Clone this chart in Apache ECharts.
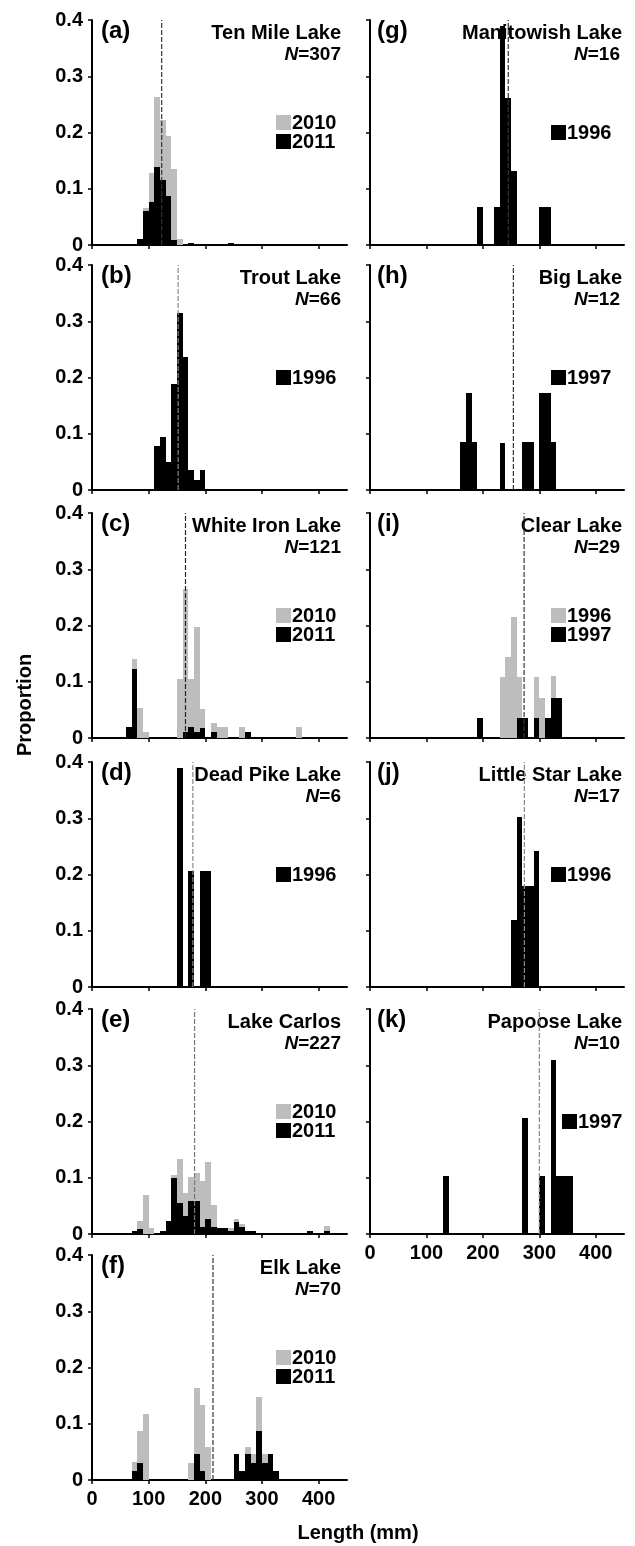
<!DOCTYPE html>
<html><head><meta charset="utf-8">
<script src="https://cdn.jsdelivr.net/npm/echarts@6/dist/echarts.min.js"></script>
<style>html,body{margin:0;padding:0;background:#fff}#c{width:635px;height:1546px}</style>
</head><body><div id="c"></div>
<script>
// ---------------- DATA ----------------
const BIN = 10; // bin width (mm)
const xTicks = [0, 100, 200, 300, 400];
const yTicks = [0, 0.1, 0.2, 0.3, 0.4];
const panelLetters = ['(a)','(b)','(c)','(d)','(e)','(f)','(g)','(h)','(i)','(j)','(k)'];
const lakeNames = ['Ten Mile Lake','Trout Lake','White Iron Lake','Dead Pike Lake','Lake Carlos','Elk Lake',
                   'Manitowish Lake','Big Lake','Clear Lake','Little Star Lake','Papoose Lake'];
const sampleSizes = [307, 66, 121, 6, 227, 70, 16, 12, 29, 17, 10];
const meanLengths = [123, 152, 165, 178, 181, 213.5, 245, 254, 273, 273.5, 300];
const greyYears  = ['2010', null, '2010', null, '2010', '2010', null, null, '1996', null, null];
const blackYears = ['2011', '1996', '2011', '1996', '2011', '2011', '1996', '1997', '1997', '1996', '1997'];

// [bin start (mm), proportion]
const tenMile2010 = [[90,0.066],[100,0.128],[110,0.263],[120,0.222],[130,0.193],[140,0.136],[150,0.011]];
const tenMile2011 = [[80,0.011],[90,0.060],[100,0.077],[110,0.138],[120,0.116],[130,0.088],[140,0.009],[170,0.004],[240,0.004]];
const trout1996 = [[110,0.079],[120,0.095],[130,0.050],[140,0.189],[150,0.315],[160,0.237],[170,0.035],[180,0.018],[190,0.035]];
const whiteIron2010 = [[70,0.140],[80,0.054],[90,0.011],[150,0.105],[160,0.265],[170,0.105],[180,0.198],[190,0.052],[210,0.027],[220,0.020],[230,0.020],[260,0.020],[360,0.020]];
const whiteIron2011 = [[60,0.020],[70,0.122],[160,0.010],[170,0.020],[180,0.010],[190,0.018],[210,0.010],[270,0.011]];
const deadPike1996 = [[150,0.390],[170,0.207],[190,0.207],[200,0.207]];
const carlos2010 = [[80,0.023],[90,0.069],[100,0.011],[140,0.105],[150,0.133],[160,0.073],[170,0.101],[180,0.109],[190,0.094],[200,0.128],[210,0.051],[240,0.010],[250,0.027],[260,0.017],[410,0.014]];
const carlos2011 = [[70,0.006],[80,0.009],[120,0.006],[130,0.023],[140,0.100],[150,0.055],[160,0.032],[170,0.058],[180,0.058],[190,0.012],[200,0.027],[210,0.012],[220,0.011],[230,0.011],[240,0.006],[250,0.021],[260,0.012],[270,0.006],[280,0.006],[380,0.006],[410,0.006]];
const elk2010 = [[70,0.032],[80,0.088],[90,0.118],[170,0.030],[180,0.163],[190,0.134],[200,0.059],[270,0.059],[280,0.046],[290,0.147],[300,0.046]];
const elk2011 = [[70,0.016],[80,0.030],[180,0.046],[190,0.016],[250,0.046],[260,0.016],[270,0.046],[280,0.030],[290,0.088],[300,0.030],[310,0.046],[320,0.016]];
const manitowish1996 = [[190,0.068],[220,0.068],[230,0.389],[240,0.261],[250,0.132],[300,0.068],[310,0.068]];
const big1997 = [[160,0.086],[170,0.172],[180,0.086],[230,0.083],[270,0.086],[280,0.086],[300,0.172],[310,0.172],[320,0.086]];
const clear1996 = [[230,0.108],[240,0.144],[250,0.215],[260,0.108],[290,0.108],[300,0.072],[320,0.110]];
const clear1997 = [[190,0.036],[260,0.036],[270,0.036],[290,0.035],[310,0.036],[320,0.072],[330,0.072]];
const littleStar1996 = [[250,0.120],[260,0.302],[270,0.180],[280,0.180],[290,0.241]];
const papoose1997 = [[130,0.103],[270,0.207],[300,0.103],[320,0.310],[330,0.103],[340,0.103],[350,0.103]];

const greyData  = [tenMile2010, null, whiteIron2010, null, carlos2010, elk2010, null, null, clear1996, null, null];
const blackData = [tenMile2011, trout1996, whiteIron2011, deadPike1996, carlos2011, elk2011, manitowish1996, big1997, clear1997, littleStar1996, papoose1997];

// ---------------- LAYOUT / STYLE ----------------
const FONT = '"Liberation Sans", Arial, Helvetica, sans-serif';
const GREY = '#bdbdbd';
const rowTops = [20, 265, 513, 762, 1009, 1255];
const GH = 225;
const colLeft = [92, 370];
const colWidth = [255, 254];
const dashColors = ['#333','#888','#222','#888','#777','#333','#333','#333','#333','#888','#888'];

const chart = echarts.init(document.getElementById('c'));
const grids = [], xAxes = [], yAxes = [], series = [], graphics = [];

function renderFor(color) {
  return function (params, api) {
    const x0 = api.value(0), v = api.value(1);
    const a = api.coord([x0, v]);
    const b = api.coord([x0 + BIN, 0]);
    const x1 = Math.round(a[0]), x2 = Math.round(b[0]);
    const y1 = Math.round(a[1]), y2 = Math.round(b[1]);
    return { type: 'rect', shape: { x: x1, y: y1, width: x2 - x1, height: y2 - y1 }, style: { fill: color } };
  };
}

function txt(x, y, text, size, align, extra) {
  return Object.assign({
    type: 'text', x: x, y: y, silent: true,
    style: { text: text, fontSize: size, fontWeight: 'bold', fontFamily: FONT, fill: '#000',
             align: align, textAlign: align, verticalAlign: 'middle', textVerticalAlign: 'middle' }
  }, extra || {});
}

for (let i = 0; i < 11; i++) {
  const col = i < 6 ? 0 : 1;
  const row = i < 6 ? i : i - 6;
  const top = rowTops[row], left = colLeft[col], width = colWidth[col];
  const isBottom = (i === 5 || i === 10);
  grids.push({ left: left, top: top, width: width, height: GH });
  xAxes.push({
    type: 'value', gridIndex: i, min: 0, max: 450, interval: 100,
    axisLine: { show: true, onZero: false, lineStyle: { color: '#000', width: 2 } },
    axisTick: { show: true, length: 4, customValues: xTicks, lineStyle: { color: '#000', width: 1.5 } },
    axisLabel: { show: isBottom, customValues: xTicks, margin: 9, color: '#000', fontSize: 20, fontWeight: 'bold', fontFamily: FONT },
    splitLine: { show: false }
  });
  yAxes.push({
    type: 'value', gridIndex: i, min: 0, max: 0.4, interval: 0.1,
    axisLine: { show: true, lineStyle: { color: '#000', width: 2 } },
    axisTick: { show: true, length: 4, lineStyle: { color: '#000', width: 1.5 } },
    axisLabel: { show: col === 0, margin: 9, color: '#000', fontSize: 20, fontWeight: 'bold', fontFamily: FONT,
                 formatter: v => (v === 0 ? '0' : v.toFixed(1)) },
    splitLine: { show: false }
  });
  if (greyData[i]) {
    series.push({ type: 'custom', xAxisIndex: i, yAxisIndex: i, data: greyData[i], encode: { x: 0, y: 1 },
                  renderItem: renderFor(GREY), z: 3, silent: true, animation: false });
  }
  series.push({ type: 'custom', xAxisIndex: i, yAxisIndex: i, data: blackData[i], encode: { x: 0, y: 1 },
                renderItem: renderFor('#000'), z: 4, silent: true, animation: false });
  series.push({ type: 'line', xAxisIndex: i, yAxisIndex: i, data: [[meanLengths[i], 0], [meanLengths[i], 0.4]],
                symbol: 'none', silent: true, animation: false, z: 5,
                lineStyle: { color: dashColors[i], width: 1.2, type: [5, 2] } });

  // panel texts
  const titleRight = col === 0 ? 341 : 622;
  const nRight = col === 0 ? 341 : 620;
  graphics.push(txt(left + (col === 0 ? 9 : 7), top + 11, panelLetters[i], 24, 'left'));
  graphics.push(txt(titleRight, top + 13, lakeNames[i], 20, 'right'));
  graphics.push({
    type: 'text', x: nRight, y: top + 35, silent: true,
    style: { text: '{it|N}=' + sampleSizes[i], fontSize: 19, fontWeight: 'bold', fontFamily: FONT, fill: '#000',
             align: 'right', textAlign: 'right', verticalAlign: 'middle', textVerticalAlign: 'middle',
             rich: { it: { fontStyle: 'italic', fontSize: 19, fontWeight: 'bold', fontFamily: FONT, fill: '#000' } } }
  });

  // legend
  const mid = top + GH / 2;
  let sqX = col === 0 ? 276 : 551;
  if (i === 10) sqX = 562;
  const sq = 15;
  const rows = [];
  if (greyYears[i]) {
    rows.push({ y: mid - 10.5, color: GREY, label: greyYears[i] });
    rows.push({ y: mid + 8.5, color: '#000', label: blackYears[i] });
  } else {
    rows.push({ y: mid, color: '#000', label: blackYears[i] });
  }
  rows.forEach(r => {
    graphics.push({ type: 'rect', silent: true, shape: { x: sqX, y: Math.round(r.y - sq / 2), width: sq, height: sq }, style: { fill: r.color } });
    graphics.push(txt(sqX + sq + 1, r.y + 1, r.label, 20, 'left'));
  });
}

graphics.push(txt(25, 705, 'Proportion', 20, 'center', { rotation: Math.PI / 2 }));
graphics.push(txt(358, 1533, 'Length (mm)', 20, 'center'));

chart.setOption({
  animation: false,
  backgroundColor: '#fff',
  grid: grids,
  xAxis: xAxes,
  yAxis: yAxes,
  series: series,
  graphic: { elements: graphics }
});
</script>
</body></html>
